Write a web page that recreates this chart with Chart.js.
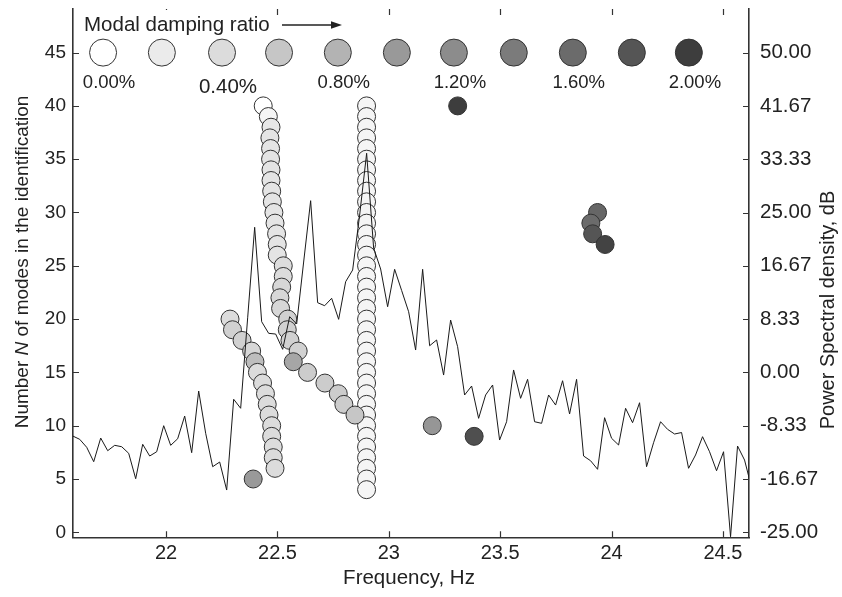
<!DOCTYPE html>
<html>
<head>
<meta charset="utf-8">
<script src="https://cdn.jsdelivr.net/npm/chart.js@4"></script>
<style>
  html, body { margin: 0; padding: 0; background: #fff; }
  #wrap { width: 842px; height: 597px; }
</style>
</head>
<body>
<div id="wrap"><canvas id="modesChart" width="842" height="597"></canvas></div>
<script>
'use strict';

/* power spectral density in dB, one value every psdStep Hz from psdStart */
var psdStart = 21.5807;
var psdStep = 0.03142;
var psdDb = [
	-9.94, -10.46, -11.71, -13.96, -10.26, -12.24, -11.40, -11.62, -12.65, -16.62,
	-11.24, -13.07, -12.40, -8.33, -11.40, -10.37, -6.82, -12.55, -2.91, -9.52,
	-14.74, -14.01, -18.39, -4.20, -5.61, 8.54, 22.69, 7.93, 6.11, 6.00,
	3.61, 8.71, 7.57, 17.26, 26.85, 10.90, 10.43, 11.59, 8.30, 14.18,
	16.01, 24.61, 34.26, 19.45, 16.17, 10.27, 16.12, 12.81, 9.49, 3.50,
	16.12, 4.17, 5.07, -0.41, 8.19, 4.02, -3.53, -2.13, -7.18, -3.53,
	-1.97, -10.57, -7.71, 0.38, -4.05, -1.08, -7.71, -7.96, -3.53, -5.10,
	-1.30, -6.50, -1.08, -13.07, -13.81, -15.15, -7.08, -10.30, -11.35, -5.61,
	-7.86, -4.74, -14.74, -10.99, -7.71, -8.90, -9.63, -9.40, -14.99, -12.91,
	-10.05, -12.40, -15.37, -12.40, -25.69, -11.51, -13.70, -18.00
];

/* identified modes: frequency (Hz), model order N, damping ratio (%) */
var modeFreq = [
	// stable mode near 22.9 Hz
	22.9, 22.9, 22.9, 22.9, 22.9, 22.9, 22.9, 22.9, 22.9, 22.9,
	22.9, 22.9, 22.9, 22.9, 22.9, 22.9, 22.9, 22.9, 22.9, 22.9,
	22.9, 22.9, 22.9, 22.9, 22.9, 22.9, 22.9, 22.9, 22.9, 22.9,
	22.9, 22.9, 22.9, 22.9, 22.9, 22.9, 22.9,
	// upper branch drifting from 22.44 to 22.85 Hz
	22.436, 22.459, 22.471, 22.466, 22.469, 22.469, 22.471, 22.471, 22.474, 22.477,
	22.484, 22.489, 22.496, 22.499, 22.499, 22.526, 22.526, 22.519, 22.511, 22.514,
	22.546, 22.544, 22.556, 22.593, 22.571, 22.635, 22.713, 22.773, 22.798, 22.848,
	// lower branch from 22.29 to 22.49 Hz
	22.287, 22.298, 22.341, 22.384, 22.399, 22.410, 22.433, 22.446, 22.454, 22.462,
	22.474, 22.474, 22.481, 22.481, 22.489,
	// scattered poles
	23.309, 23.937, 23.907, 23.915, 23.971, 23.195, 23.383, 22.391
];
var modeOrder = [
	40, 39, 38, 37, 36, 35, 34, 33, 32, 31,
	30, 29, 28, 27, 26, 25, 24, 23, 22, 21,
	20, 19, 18, 17, 16, 15, 14, 13, 12, 11,
	10, 9, 8, 7, 6, 5, 4,
	40, 39, 38, 37, 36, 35, 34, 33, 32, 31,
	30, 29, 28, 27, 26, 25, 24, 23, 22, 21,
	20, 19, 18, 17, 16, 15, 14, 13, 12, 11,
	20, 19, 18, 17, 16, 15, 14, 13, 12, 11,
	10, 9, 8, 7, 6,
	40, 30, 29, 28, 27, 10, 9, 5
];
var modeDamping = [
	0.1, 0.1, 0.1, 0.1, 0.1, 0.1, 0.1, 0.1, 0.1, 0.1,
	0.1, 0.1, 0.1, 0.1, 0.1, 0.1, 0.1, 0.1, 0.1, 0.1,
	0.1, 0.1, 0.1, 0.1, 0.1, 0.1, 0.1, 0.1, 0.1, 0.1,
	0.1, 0.1, 0.1, 0.1, 0.1, 0.1, 0.1,
	0.0, 0.1, 0.25, 0.3, 0.3, 0.3, 0.3, 0.3, 0.3, 0.3,
	0.3, 0.3, 0.3, 0.3, 0.3, 0.4, 0.4, 0.45, 0.45, 0.45,
	0.5, 0.5, 0.5, 0.5, 0.9, 0.55, 0.55, 0.55, 0.55, 0.6,
	0.4, 0.5, 0.5, 0.45, 0.7, 0.4, 0.4, 0.4, 0.4, 0.4,
	0.4, 0.4, 0.4, 0.4, 0.4,
	2.0, 1.65, 1.6, 1.8, 1.95, 1.05, 1.85, 1.0
];

/* damping ratio key drawn across the top row */
var keyDamping = [0, 0.2, 0.4, 0.6, 0.8, 1.0, 1.2, 1.4, 1.6, 1.8, 2.0];
var keyShades = ['#ffffff', '#ebebeb', '#dcdcdc', '#c6c6c6', '#b3b3b3', '#999999',
	'#8c8c8c', '#7b7b7b', '#6b6b6b', '#555555', '#3d3d3d'];
var keyFreq = [21.717, 21.981, 22.251, 22.507, 22.771, 23.036, 23.292, 23.561, 23.826, 24.091, 24.347];
var keyOrder = 45;
var keyLabels = ['0.00%', '0.40%', '0.80%', '1.20%', '1.60%', '2.00%'];

var freqTicks = [22, 22.5, 23, 23.5, 24, 24.5];
var orderTicks = [0, 5, 10, 15, 20, 25, 30, 35, 40, 45];
var psdTicks = [-25, -16.67, -8.33, 0, 8.33, 16.67, 25, 33.33, 41.67, 50];

var FONT = 'Liberation Sans';
var INK = '#222';

/* grey level for a damping ratio, interpolated along the key */
function grey(hex) {
	return parseInt(hex.slice(1, 3), 16);
}
function shadeFor(d) {
	var step = keyDamping[1] - keyDamping[0];
	var pos = Math.max(0, Math.min(d / step, keyShades.length - 1));
	var i = Math.min(Math.floor(pos), keyShades.length - 2);
	var t = pos - i;
	var g = Math.round(grey(keyShades[i]) * (1 - t) + grey(keyShades[i + 1]) * t);
	return 'rgb(' + g + ',' + g + ',' + g + ')';
}

var psdPoints = psdDb.map(function (v, i) {
	return { x: psdStart + i * psdStep, y: v };
});
var modePoints = modeFreq.map(function (f, i) {
	return { x: f, y: modeOrder[i] };
});
var modeColors = modeDamping.map(shadeFor);
var keyPoints = keyFreq.map(function (f) {
	return { x: f, y: keyOrder };
});

function fixTicks(values) {
	return function (scale) {
		scale.ticks = values.map(function (v) { return { value: v }; });
	};
}

/* vertical scales keep no extra room for their end labels */
function fitVertical(width) {
	return function (s) {
		s.width = width;
		s.paddingTop = 0;
		s.paddingBottom = 0;
	};
}

/* inward ticks, axis titles and the damping key captions */
var framePlugin = {
	id: 'frame',
	afterDraw: function (chart) {
		var c = chart.ctx;
		var a = chart.chartArea;
		var sx = chart.scales.x;
		var sy = chart.scales.y;
		var sp = chart.scales.yPsd;
		var len = 6;

		c.save();
		c.strokeStyle = '#333';
		c.lineWidth = 1.2;
		c.beginPath();
		sx.ticks.forEach(function (t) {
			var px = Math.round(sx.getPixelForValue(t.value)) + 0.5;
			c.moveTo(px, a.bottom);
			c.lineTo(px, a.bottom - len);
			c.moveTo(px, a.top);
			c.lineTo(px, a.top + len);
		});
		sy.ticks.forEach(function (t) {
			var py = Math.round(sy.getPixelForValue(t.value)) + 0.5;
			c.moveTo(a.left, py);
			c.lineTo(a.left + len, py);
		});
		sp.ticks.forEach(function (t) {
			var py = Math.round(sp.getPixelForValue(t.value)) + 0.5;
			c.moveTo(a.right, py);
			c.lineTo(a.right - len, py);
		});
		c.stroke();

		// heading of the key, with an arrow towards higher damping
		c.fillStyle = '#fff';
		c.fillRect(80, a.top + 1, 192, 27);
		c.fillStyle = INK;
		c.font = '20.5px "' + FONT + '"';
		c.textAlign = 'left';
		c.textBaseline = 'alphabetic';
		c.fillText('Modal damping ratio', 84, 30.7);
		c.strokeStyle = INK;
		c.lineWidth = 1.3;
		c.beginPath();
		c.moveTo(282, 25);
		c.lineTo(334, 25);
		c.stroke();
		c.beginPath();
		c.moveTo(342, 25);
		c.lineTo(331, 21.3);
		c.lineTo(331, 28.7);
		c.closePath();
		c.fill();

		// captions under every second key circle
		var keyY = sy.getPixelForValue(keyOrder);
		keyLabels.forEach(function (txt, i) {
			var px = sx.getPixelForValue(keyFreq[i * 2]) + 6;
			var big = i === 1;
			c.font = (big ? '20.5px' : '18.5px') + ' "' + FONT + '"';
			c.textAlign = 'center';
			c.fillText(txt, px, keyY + (big ? 40.7 : 35.7));
		});

		// axis titles
		c.font = '20.5px "' + FONT + '"';
		c.textAlign = 'center';
		c.textBaseline = 'middle';
		c.fillText('Frequency, Hz', 409, 578);

		c.save();
		c.translate(828, 310);
		c.rotate(-Math.PI / 2);
		c.font = '20px "' + FONT + '"';
		c.fillText('Power Spectral density, dB', 0, 0);
		c.restore();

		var parts = [
			['Number ', '19px "' + FONT + '"'],
			['N', 'italic 19px "' + FONT + '"'],
			[' of modes in the identification', '19px "' + FONT + '"']
		];
		var total = 0;
		parts.forEach(function (p) {
			c.font = p[1];
			total += c.measureText(p[0]).width;
		});
		c.save();
		c.translate(22.7, 262);
		c.rotate(-Math.PI / 2);
		c.textAlign = 'left';
		var x = -total / 2;
		parts.forEach(function (p) {
			c.font = p[1];
			c.fillText(p[0], x, 0);
			x += c.measureText(p[0]).width;
		});
		c.restore();
		c.restore();
	}
};

var axisBorder = { display: true, color: '#333', width: 1.6 };

var chartOne = document.getElementById('modesChart').getContext('2d');
var chart = new Chart(chartOne, {
	type: 'scatter',
	data: {
		datasets: [{
			type: 'line',
			label: 'PSD',
			data: psdPoints,
			yAxisID: 'yPsd',
			borderColor: '#1a1a1a',
			borderWidth: 1,
			pointRadius: 0,
			tension: 0,
			fill: false,
			order: 0
		},
		{
			label: 'Modes',
			data: modePoints,
			yAxisID: 'y',
			pointRadius: 9,
			pointBackgroundColor: modeColors,
			pointBorderColor: '#333',
			pointBorderWidth: 1,
			order: 1
		},
		{
			label: 'Damping key',
			data: keyPoints,
			yAxisID: 'y',
			pointRadius: 13.5,
			pointBackgroundColor: keyShades,
			pointBorderColor: '#333',
			pointBorderWidth: 1,
			order: 2
		}]
	},
	options: {
		responsive: false,
		animation: false,
		layout: {
			autoPadding: false,
			padding: { top: 9, left: 0, right: 0, bottom: 0 }
		},
		plugins: {
			legend: { display: false },
			tooltip: { enabled: false }
		},
		scales: {
			x: {
				type: 'linear',
				position: 'bottom',
				min: 21.582,
				max: 24.617,
				afterBuildTicks: fixTicks(freqTicks),
				afterFit: function (s) {
					s.height = 59.7;
					s.paddingLeft = 0;
					s.paddingRight = 0;
				},
				grid: { display: false, drawTicks: false },
				border: axisBorder,
				ticks: {
					padding: 4,
					font: { family: FONT, size: 20 },
					color: INK,
					callback: function (v) { return String(v); }
				}
			},
			y: {
				type: 'linear',
				position: 'left',
				min: -0.469,
				max: 49.09,
				afterBuildTicks: fixTicks(orderTicks),
				afterFit: fitVertical(73),
				grid: { display: false, drawTicks: false },
				border: axisBorder,
				ticks: {
					padding: 7,
					font: { family: FONT, size: 19 },
					color: INK,
					callback: function (v) { return String(v); }
				}
			},
			yPsd: {
				type: 'linear',
				position: 'right',
				min: -25.78,
				max: 56.82,
				afterBuildTicks: fixTicks(psdTicks),
				afterFit: fitVertical(93),
				grid: { display: false, drawTicks: false },
				border: axisBorder,
				ticks: {
					padding: 11,
					font: { family: FONT, size: 20.5 },
					color: INK,
					callback: function (v) { return v.toFixed(2); }
				}
			}
		}
	},
	plugins: [framePlugin]
});
</script>
</body>
</html>
